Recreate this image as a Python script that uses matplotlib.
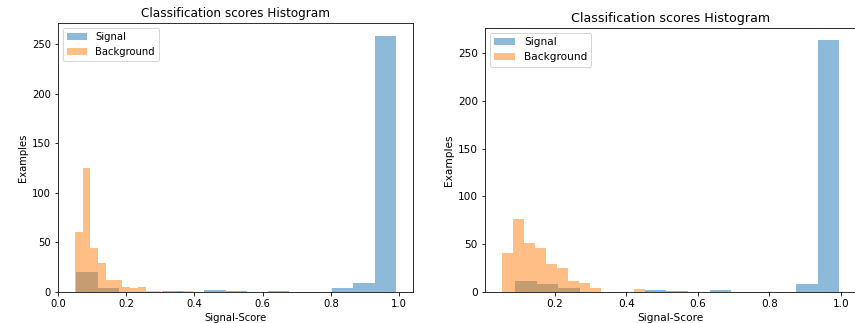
import numpy as np
import matplotlib

matplotlib.use("Agg")
import matplotlib.pyplot as plt

# bin ranges (15 bins each) and counts
left_sig_range = (0.054, 0.991)
left_sig_counts = [20, 4, 0, 0, 1, 0, 2, 1, 0, 1, 0, 0, 4, 9, 258]
left_bkg_range = (0.049, 0.396)
left_bkg_counts = [60, 125, 44, 29, 12, 12, 5, 4, 5, 1, 1, 0, 0, 1, 1]

right_sig_range = (0.089, 0.995)
right_sig_counts = [12, 9, 4, 0, 0, 0, 2, 1, 0, 2, 0, 0, 0, 9, 263]
right_bkg_range = (0.0515, 0.512)
right_bkg_counts = [41, 76, 51, 46, 30, 25, 12, 10, 4, 0, 0, 0, 3, 1, 1]

TITLE = "Classification scores Histogram"


def draw(ax, sig_range, sig_counts, bkg_range, bkg_counts, scale=1.0):
    for rng, counts, label in [(sig_range, sig_counts, "Signal"), (bkg_range, bkg_counts, "Background")]:
        edges = np.linspace(rng[0], rng[1], len(counts) + 1)
        ax.hist(edges[:-1], bins=edges, weights=counts, alpha=0.5, label=label)
    ax.set_title(TITLE, fontsize=12 * scale)
    ax.set_xlabel("Signal-Score", fontsize=10 * scale)
    ax.set_ylabel("Examples", fontsize=10 * scale)
    ax.tick_params(labelsize=10 * scale)
    ax.legend(loc="upper left", fontsize=10 * scale)


fig = plt.figure(figsize=(855 / 72, 323 / 72), dpi=72)
ax1 = fig.add_axes([58 / 855, 31 / 323, 355 / 855, 268.7 / 323])
ax2 = fig.add_axes([485 / 855, 30.7 / 323, 371 / 855, 264.6 / 323])

draw(ax1, left_sig_range, left_sig_counts, left_bkg_range, left_bkg_counts)
ax1.set_xlim(0.0, 1.041)
draw(ax2, right_sig_range, right_sig_counts, right_bkg_range, right_bkg_counts, scale=1.05)
# the right panel is cut off at the image edge, so its right spine is not seen
ax2.spines["right"].set_visible(False)

fig.savefig("out.png", dpi=72)
